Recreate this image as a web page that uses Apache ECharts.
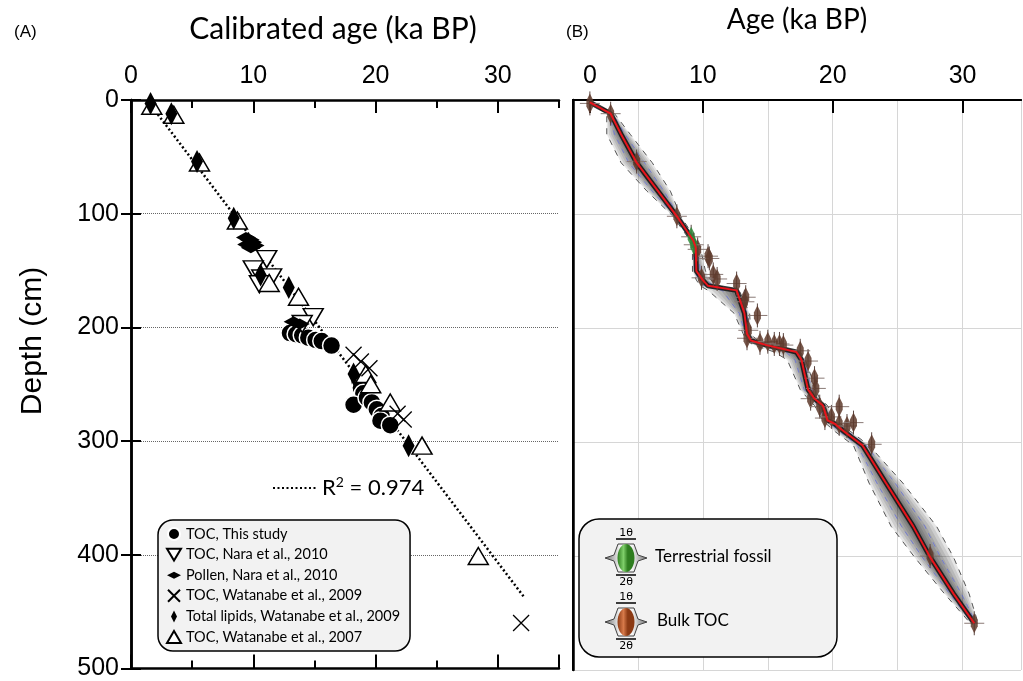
<!DOCTYPE html>
<html>
<head>
<meta charset="utf-8">
<script src="https://cdn.jsdelivr.net/npm/echarts@6/dist/echarts.min.js"></script>
<style>
  html, body { margin: 0; padding: 0; background: #fff; }
  #main { width: 1023px; height: 681px; }
</style>
</head>
<body>
<div id="main"></div>
<script>
// ---- (A) radiocarbon ages vs depth: [age ka, depth cm]
var tocThisStudy = [[13.0,205],[13.5,206],[14.0,207],[14.5,209],[15.1,211],[15.6,212],[16.4,216],
  [18.7,248],[18.8,253],[19.0,258],[18.2,268],[19.3,262],[19.7,266],[20.1,272],[20.5,278],[20.4,282],[21.2,286]];
var tocNara2010 = [[11.1,140],[10.0,149],[10.7,157],[11.5,156],[10.5,162],[14.9,191],[14.0,197]];
var pollenNara2010 = [[9.4,121],[9.7,123],[9.9,125],[9.5,127],[10.1,128],[9.8,130],[13.3,195],[13.8,197]];
var tocWatanabe2009 = [[18.2,224],[18.8,230],[19.5,236],[21.8,276],[22.3,281],[31.9,460]];
var lipidsWatanabe2009 = [[1.6,3],[3.3,12],[5.4,54],[8.4,104],[10.6,154],[12.9,165],[18.2,241],[22.7,304]];
var tocWatanabe2007 = [[1.7,5],[3.5,13],[5.6,55],[8.7,106],[11.3,161],[13.7,173],[19.2,241],[19.6,250],
  [21.2,266],[23.8,304],[28.4,401]];
var regressionLine = [[1.3,0],[32.2,438]];
var r2Text = '0.974';

// ---- (B) Bacon age-depth model
var modelDepth = [2,12,30,55,80,102,123,129,150,158,163,167,187,205,211,215,221,228,254,262,268,281,284,291,303,336,374,401,433,459];
var modelMean  = [1.3,2.9,3.7,4.9,6.55,8.0,9.25,9.45,9.5,10.0,10.4,12.6,13.2,13.4,13.7,14.9,17.2,17.6,18.1,18.6,19.25,19.6,20.15,20.9,22.3,24.1,26.2,27.5,29.3,30.9];
var modelLo95  = [1.2,2.6,2.6,3.7,5.7,7.7,9.0,9.2,9.2,9.5,9.8,10.4,12.4,13.1,13.4,13.9,15.5,16.5,17.5,18.1,18.6,19.2,19.5,20.2,21.6,22.8,24.5,26.3,28.6,30.6];
var modelHi95  = [1.45,3.2,4.4,6.1,7.5,8.3,9.5,9.8,10.2,10.6,11.2,12.8,13.6,13.7,14.2,15.3,17.5,17.9,18.7,19.0,19.6,20.2,20.6,21.4,22.8,25.4,28.0,29.3,30.5,31.2];
var modelLoBlue = [1.25,2.75,3.2,4.3,6.1,7.85,9.1,9.3,9.35,9.7,10.1,11.5,12.8,13.25,13.55,14.4,16.4,17.1,17.8,18.35,18.9,19.4,19.8,20.55,21.9,23.4,25.3,26.9,29.0,30.75];
var modelHiBlue = [1.4,3.05,4.0,5.5,7.0,8.15,9.4,9.6,9.8,10.3,10.8,12.7,13.4,13.55,13.9,15.1,17.4,17.8,18.4,18.8,19.4,19.9,20.4,21.2,22.6,24.8,27.1,28.3,29.9,31.05];
var datesTerrestrial = [[9.1,120],[9.3,127]];
var datesBulkToc = [[1.3,3],[2.9,12],[4.9,54],[8.0,102],[9.6,131],[10.4,137],[10.5,139],[10.8,153],[11.1,157],
  [9.9,156],[12.6,161],[13.3,173],[13.2,177],[14.2,189],[13.5,202],[13.4,209],[14.4,213],[15.0,212],[15.5,214],
  [15.9,214],[16.2,215],[17.5,220],[18.1,229],[18.6,244],[18.7,253],[18.3,262],[19.0,269],[19.4,279],[19.9,278],
  [20.5,269],[20.5,284],[21.1,286],[21.6,283],[23.0,302],[27.5,400],[30.9,459]];

// tick labels of panel B (the "0" sits a little right of the frame, as in the figure)
var ageTickPosB = [1.3, 10, 20, 30];
var ageTickLabelsB = ['0', '10', '20', '30'];

function zip(xs, ys) {
  return xs.map(function (x, i) { return [x, ys[i]]; });
}

var symDown = 'path://M0,0L20,0L10,17Z';
var symUp = 'path://M10,0L20,17L0,17Z';
var symWide = 'path://M0,5L10,0L20,5L10,10Z';
var symTall = 'path://M5,0L10,10L5,20L0,10Z';
var symCross = 'path://M0,0L10,10M10,0L0,10';

var chart = echarts.init(document.getElementById('main'));

var labelFont = 'Liberation Sans';
var titleFont = 'Lato';

// shaded probability cloud around the mean
function renderCloud(params, api) {
  var fractions = [1, 0.85, 0.7, 0.55, 0.42, 0.3, 0.2, 0.1];
  var children = [];
  fractions.forEach(function (f) {
    var pts = [];
    for (var i = 0; i < modelDepth.length; i++) {
      pts.push(api.coord([modelMean[i] - f * (modelMean[i] - modelLo95[i]), modelDepth[i]]));
    }
    for (var j = modelDepth.length - 1; j >= 0; j--) {
      pts.push(api.coord([modelMean[j] + f * (modelHi95[j] - modelMean[j]), modelDepth[j]]));
    }
    children.push({ type: 'polygon', shape: { points: pts }, style: { fill: 'rgba(0,0,0,0.1)' } });
  });
  return { type: 'group', children: children };
}

function renderDate(fill) {
  return function (params, api) {
    var p = api.coord([api.value(0), api.value(1)]);
    var x = p[0], y = p[1];
    return {
      type: 'group',
      children: [
        { type: 'line', shape: { x1: x - 10, y1: y, x2: x + 10, y2: y }, style: { stroke: '#8a7a76', lineWidth: 1 } },
        { type: 'line', shape: { x1: x, y1: y - 12, x2: x, y2: y + 12 }, style: { stroke: '#5a4540', lineWidth: 1 } },
        { type: 'polygon',
          shape: { points: [[x, y - 10], [x + 3.5, y - 3], [x + 3.5, y + 3], [x, y + 10], [x - 3.5, y + 3], [x - 3.5, y - 3]] },
          style: { fill: fill, opacity: 0.85 } }
      ]
    };
  };
}

// violin-like icon with 1θ / 2θ marks for the legend of panel B
function legendIcon(cx, cy, colors) {
  return {
    type: 'group', x: cx, y: cy, z: 100,
    children: [
      { type: 'polygon', z: 100, shape: { points: [[-21, 0], [-12, -3], [-8, -14], [8, -14], [12, -3], [21, 0], [12, 3], [8, 14], [-8, 14], [-12, 3]] },
        style: { fill: new echarts.graphic.LinearGradient(0, 0, 1, 0, [
          { offset: 0, color: '#666' }, { offset: 0.35, color: '#f4f4f4' }, { offset: 0.65, color: '#f4f4f4' }, { offset: 1, color: '#666' }]),
          stroke: '#444', lineWidth: 1 } },
      { type: 'ellipse', z: 100, shape: { cx: 0, cy: 0, rx: 8.5, ry: 14 },
        style: { fill: new echarts.graphic.LinearGradient(0, 0, 1, 0, [
          { offset: 0, color: colors[1] }, { offset: 0.35, color: colors[0] }, { offset: 0.6, color: colors[1] }, { offset: 1, color: colors[1] }]) } },
      { type: 'text', z: 100, x: 0, y: -25, style: { text: '1θ', font: '11px "DejaVu Sans"', fill: '#000', align: 'center', verticalAlign: 'middle' } },
      { type: 'line', z: 100, shape: { x1: -10, y1: -19, x2: 10, y2: -19 }, style: { stroke: '#000', lineWidth: 1.5 } },
      { type: 'line', z: 100, shape: { x1: -10, y1: 17, x2: 10, y2: 17 }, style: { stroke: '#000', lineWidth: 1.5 } },
      { type: 'text', z: 100, x: 0, y: 24, style: { text: '2θ', font: '11px "DejaVu Sans"', fill: '#000', align: 'center', verticalAlign: 'middle' } }
    ]
  };
}

function tickAxisX(pos, interval, len, labels) {
  return {
    gridIndex: 0, type: 'value', position: pos, min: 0, max: 35, interval: interval,
    axisLine: { show: labels, lineStyle: { color: '#000', width: 2.5 } },
    axisTick: { inside: true, length: len, lineStyle: { color: '#000', width: 2 } },
    axisLabel: { show: pos === 'top' && labels, showMaxLabel: false, fontFamily: labelFont, fontSize: 25, color: '#000', margin: 11 },
    splitLine: { show: false }
  };
}

var xTopMajor = tickAxisX('top', 10, 13, true);
xTopMajor.name = 'Calibrated age (ka BP)';
xTopMajor.nameLocation = 'middle';
xTopMajor.nameGap = 56;
xTopMajor.nameTextStyle = { fontFamily: titleFont, fontSize: 30, color: '#000', padding: [0, 24, 0, 0] };

var option = {
  backgroundColor: '#fff',
  animation: false,
  grid: [
    { left: 131, top: 100, width: 428, height: 571 },
    { left: 573, top: 100, width: 448, height: 570 }
  ],
  xAxis: [
    xTopMajor,
    tickAxisX('top', 5, 8, false),
    tickAxisX('bottom', 10, 14, true),
    tickAxisX('bottom', 5, 8, false),
    {
      gridIndex: 1, type: 'value', position: 'top', min: 0, max: 34.5,
      name: 'Age (ka BP)', nameLocation: 'middle', nameGap: 66,
      nameTextStyle: { fontFamily: titleFont, fontSize: 28, color: '#000' },
      axisLine: { lineStyle: { color: '#000', width: 2 } },
      axisTick: { inside: true, length: 13, customValues: ageTickPosB, lineStyle: { color: '#000', width: 2 } },
      axisLabel: {
        customValues: ageTickPosB, fontFamily: labelFont, fontSize: 25, color: '#000', margin: 11,
        formatter: function (v) {
          var best = 0;
          ageTickPosB.forEach(function (t, i) { if (Math.abs(t - v) < Math.abs(ageTickPosB[best] - v)) best = i; });
          return ageTickLabelsB[best];
        }
      },
      splitLine: { show: false }
    },
    {
      gridIndex: 1, type: 'value', position: 'bottom', min: 0, max: 34.5, interval: 5,
      axisLine: { lineStyle: { color: '#000', width: 2 } },
      axisTick: { show: false }, axisLabel: { show: false },
      splitLine: { show: true, lineStyle: { color: '#d6d6d6', width: 1 } }
    }
  ],
  yAxis: [
    {
      gridIndex: 0, type: 'value', position: 'left', min: 0, max: 500, interval: 100, inverse: true,
      axisLine: { lineStyle: { color: '#000', width: 2.5 } },
      axisTick: { inside: true, length: 10, lineStyle: { color: '#000', width: 2 } },
      axisLabel: { fontFamily: labelFont, fontSize: 25, color: '#000', margin: 12 },
      splitLine: { show: true, lineStyle: { color: '#666', width: 1, type: [1, 1] } }
    },
    {
      gridIndex: 0, type: 'value', position: 'right', min: 0, max: 500, interval: 100, inverse: true,
      axisLine: { lineStyle: { color: '#000', width: 2.5 } },
      axisTick: { inside: true, length: 10, lineStyle: { color: '#000', width: 2 } },
      axisLabel: { show: false }, splitLine: { show: false }
    },
    {
      gridIndex: 1, type: 'value', position: 'left', min: 0, max: 500, interval: 100, inverse: true,
      axisLine: { lineStyle: { color: '#000', width: 2.5 } },
      axisTick: { show: false }, axisLabel: { show: false },
      splitLine: { show: true, lineStyle: { color: '#d6d6d6', width: 1 } }
    },
    {
      gridIndex: 1, type: 'value', position: 'right', min: 0, max: 500, interval: 100, inverse: true,
      axisLine: { lineStyle: { color: '#000', width: 2 } },
      axisTick: { show: false }, axisLabel: { show: false }, splitLine: { show: false }
    }
  ],
  legend: {
    left: 158, top: 520, orient: 'vertical',
    backgroundColor: '#f2f2f2', borderColor: '#000', borderWidth: 1.5, borderRadius: 15,
    padding: [6, 10, 6, 8], itemWidth: 14, itemHeight: 12, itemGap: 4.6,
    selectedMode: false,
    textStyle: { fontFamily: titleFont, fontSize: 14.5, color: '#000', lineHeight: 16 },
    data: [
      { name: 'TOC, This study', icon: 'circle' },
      { name: 'TOC, Nara et al., 2010', icon: symDown },
      { name: 'Pollen, Nara et al., 2010', icon: symWide },
      { name: 'TOC, Watanabe et al., 2009', icon: symCross },
      { name: 'Total lipids, Watanabe et al., 2009', icon: symTall },
      { name: 'TOC, Watanabe et al., 2007', icon: symUp }
    ]
  },
  graphic: [
    { type: 'text', left: 14, top: 24, style: { text: '(A)', font: '17px "Liberation Sans"', fill: '#000' } },
    { type: 'text', left: 566, top: 24, style: { text: '(B)', font: '17px "Liberation Sans"', fill: '#000' } },
    { type: 'text', x: 33, y: 341, rotation: Math.PI / 2,
      style: { text: 'Depth (cm)', font: '30px "Liberation Sans"', fill: '#000', align: 'center', verticalAlign: 'middle' } },
    { type: 'line', shape: { x1: 273, y1: 488, x2: 318, y2: 488 }, style: { stroke: '#000', lineWidth: 2, lineDash: [2, 2.5] } },
    { type: 'text', left: 322, top: 475, style: {
        text: '{a|R}{s|2}{a| = ' + r2Text + '}',
        rich: {
          a: { fontFamily: titleFont, fontSize: 22, fill: '#000', verticalAlign: 'bottom' },
          s: { fontFamily: titleFont, fontSize: 14, fill: '#000', verticalAlign: 'top', padding: [0, 0, 10, 0] }
        }
      } },
    // legend of panel B
    { type: 'rect', z: 99, shape: { x: 579, y: 519, width: 258, height: 138, r: 20 },
      style: { fill: '#f2f2f2', stroke: '#000', lineWidth: 1.5 } },
    legendIcon(626, 558, ['#7fcf6a', '#2e7d1f']),
    legendIcon(626, 622, ['#d77a4a', '#8b3a14']),
    { type: 'text', z: 100, left: 655, top: 548, style: { text: 'Terrestrial fossil', font: '17px Lato', fill: '#000' } },
    { type: 'text', z: 100, left: 657, top: 612, style: { text: 'Bulk TOC', font: '17px Lato', fill: '#000' } }
  ],
  series: [
    { type: 'line', xAxisIndex: 0, yAxisIndex: 0, data: regressionLine, symbol: 'none', silent: true,
      lineStyle: { color: '#000', width: 2.5, type: [2, 2.5] }, z: 1 },
    { name: 'TOC, This study', type: 'scatter', xAxisIndex: 0, yAxisIndex: 0, data: tocThisStudy,
      symbol: 'circle', symbolSize: 18, itemStyle: { color: '#000', borderColor: '#fff', borderWidth: 1.5, opacity: 1 } },
    { name: 'TOC, Nara et al., 2010', type: 'scatter', xAxisIndex: 0, yAxisIndex: 0, data: tocNara2010,
      symbol: symDown, symbolSize: [20, 17], itemStyle: { color: '#fff', borderColor: '#000', borderWidth: 1.5, opacity: 1 } },
    { name: 'TOC, Watanabe et al., 2007', type: 'scatter', xAxisIndex: 0, yAxisIndex: 0, data: tocWatanabe2007,
      symbol: symUp, symbolSize: [20, 17], itemStyle: { color: '#fff', borderColor: '#000', borderWidth: 1.5, opacity: 1 } },
    { name: 'TOC, Watanabe et al., 2009', type: 'scatter', xAxisIndex: 0, yAxisIndex: 0, data: tocWatanabe2009,
      symbol: symCross, symbolSize: 16, itemStyle: { color: 'rgba(0,0,0,0)', borderColor: '#000', borderWidth: 1.3, opacity: 1 } },
    { name: 'Pollen, Nara et al., 2010', type: 'scatter', xAxisIndex: 0, yAxisIndex: 0, data: pollenNara2010,
      symbol: symWide, symbolSize: [20, 11], itemStyle: { color: '#000', opacity: 1 } },
    { name: 'Total lipids, Watanabe et al., 2009', type: 'scatter', xAxisIndex: 0, yAxisIndex: 0, data: lipidsWatanabe2009,
      symbol: symTall, symbolSize: [12, 23], itemStyle: { color: '#000', opacity: 1 } },

    // panel B
    { type: 'custom', xAxisIndex: 4, yAxisIndex: 2, data: [[0, 0]], renderItem: renderCloud, silent: true, clip: true, z: 1 },
    { type: 'line', xAxisIndex: 4, yAxisIndex: 2, data: zip(modelLo95, modelDepth), symbol: 'none', silent: true,
      lineStyle: { color: '#555', width: 1, type: [6, 6] }, z: 2 },
    { type: 'line', xAxisIndex: 4, yAxisIndex: 2, data: zip(modelHi95, modelDepth), symbol: 'none', silent: true,
      lineStyle: { color: '#555', width: 1, type: [6, 6] }, z: 2 },
    { type: 'line', xAxisIndex: 4, yAxisIndex: 2, data: zip(modelLoBlue, modelDepth), symbol: 'none', silent: true,
      lineStyle: { color: '#3a4cff', width: 0.8, type: [5, 5], opacity: 0.6 }, z: 2 },
    { type: 'line', xAxisIndex: 4, yAxisIndex: 2, data: zip(modelHiBlue, modelDepth), symbol: 'none', silent: true,
      lineStyle: { color: '#3a4cff', width: 0.8, type: [5, 5], opacity: 0.6 }, z: 2 },
    { type: 'line', xAxisIndex: 4, yAxisIndex: 2, data: zip(modelMean, modelDepth), symbol: 'none', silent: true,
      lineStyle: { color: '#111', width: 5, opacity: 0.85 }, z: 3 },
    { type: 'custom', xAxisIndex: 4, yAxisIndex: 2, data: datesBulkToc, renderItem: renderDate('#5e3a2c'), silent: true, z: 4 },
    { type: 'custom', xAxisIndex: 4, yAxisIndex: 2, data: datesTerrestrial, renderItem: renderDate('#2f8a3a'), silent: true, z: 4 },
    { type: 'line', xAxisIndex: 4, yAxisIndex: 2, data: zip(modelMean, modelDepth), symbol: 'none', silent: true,
      lineStyle: { color: '#e8141b', width: 2 }, z: 5 }
  ]
};

chart.setOption(option);
</script>
</body>
</html>
